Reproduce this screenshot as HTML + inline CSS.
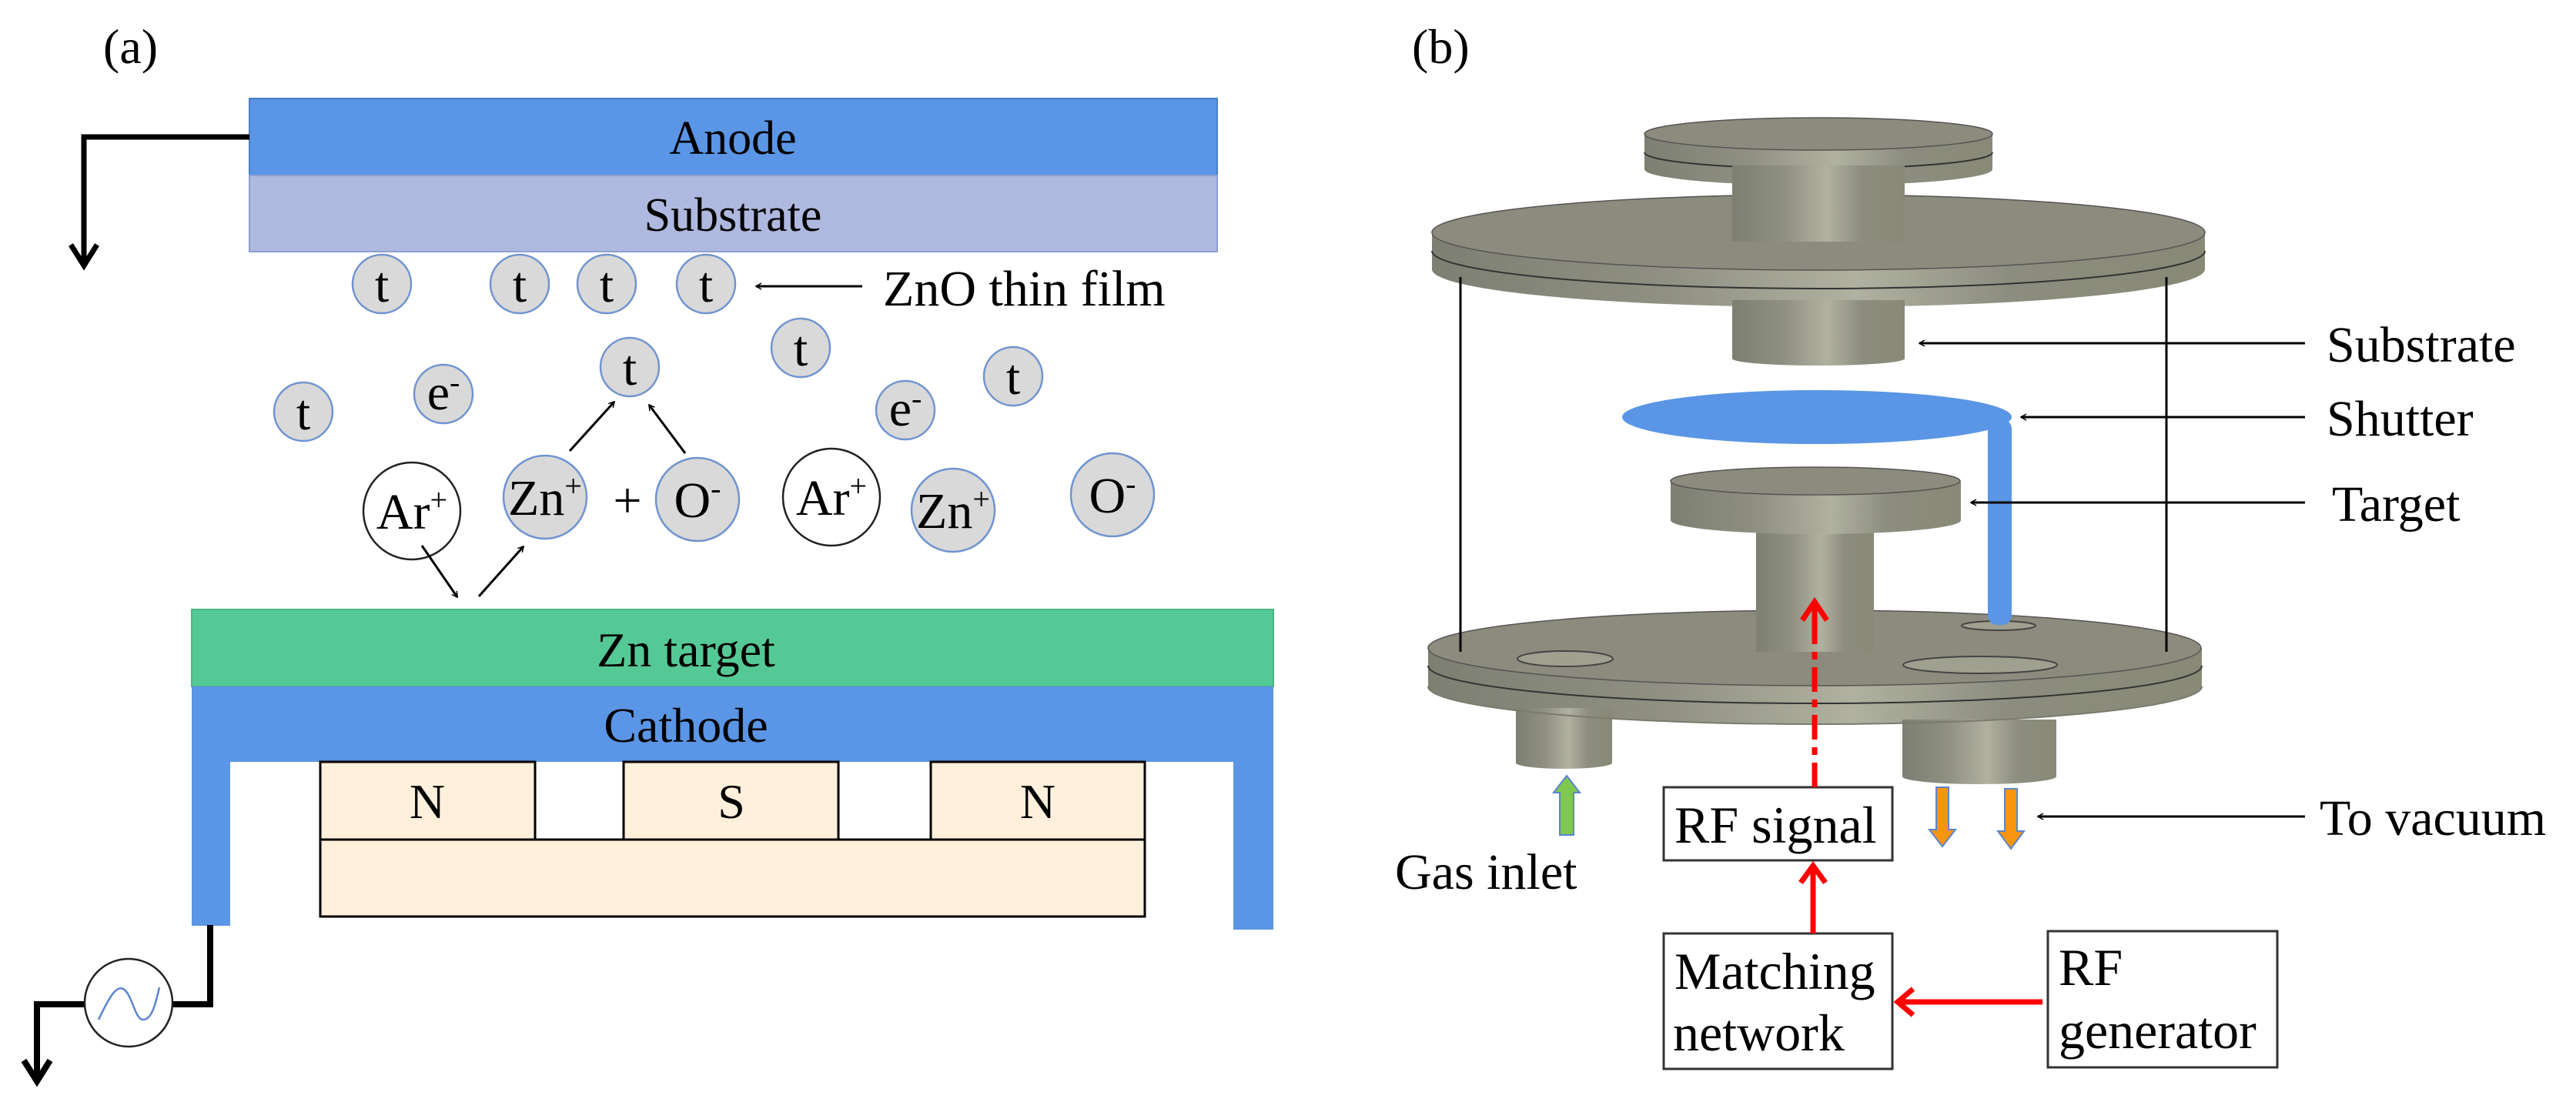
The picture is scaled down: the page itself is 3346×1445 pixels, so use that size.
<!DOCTYPE html>
<html><head><meta charset="utf-8"><style>
html,body{margin:0;padding:0;background:#fff}
svg{display:block;font-family:"Liberation Serif","DejaVu Serif",serif}
svg text{font-family:"Liberation Serif","DejaVu Serif",serif;fill:#000}
</style></head><body>
<svg width="3346" height="1445" viewBox="0 0 3346 1445" xmlns="http://www.w3.org/2000/svg">
<defs>
<linearGradient id="m" x1="0" x2="1" y1="0" y2="0">
<stop offset="0" stop-color="#7d7f72"/><stop offset="0.3" stop-color="#8f9082"/><stop offset="0.55" stop-color="#b0b1a0"/><stop offset="0.75" stop-color="#8c8d7f"/><stop offset="1" stop-color="#888976"/>
</linearGradient>
<marker id="ah" markerWidth="10" markerHeight="10" refX="8" refY="5" orient="auto" markerUnits="userSpaceOnUse" viewBox="0 0 10 10"><path d="M1,1 L8,5 L1,9" fill="none" stroke="#000" stroke-width="1.5"/></marker>
</defs>

<text x="134" y="82" font-size="64">(a)</text>
<rect x="324" y="128" width="1257" height="100" fill="#5b95e5" stroke="#4a7fcc" stroke-width="2"/>
<rect x="324" y="228" width="1257" height="99" fill="#afb9df" stroke="#8e9fd2" stroke-width="2"/>
<text x="952" y="200" font-size="62" text-anchor="middle">Anode</text>
<text x="952" y="300" font-size="62" text-anchor="middle">Substrate</text>
<path d="M324,178 H109 V340" fill="none" stroke="#000" stroke-width="7"/>
<path d="M92,318 L109,345 L126,318" fill="none" stroke="#000" stroke-width="7"/>

<g fill="#d9d9d9" stroke="#7094d0" stroke-width="2.5">
<circle cx="496" cy="369" r="38"/><circle cx="675" cy="369" r="38"/><circle cx="788" cy="369" r="38"/><circle cx="917" cy="369" r="38"/>
<circle cx="1040" cy="452" r="38"/><circle cx="818" cy="477" r="38"/><circle cx="394" cy="535" r="38"/><circle cx="576" cy="512" r="38"/>
<circle cx="1176" cy="533" r="38"/><circle cx="1316" cy="489" r="38"/>
<circle cx="708" cy="646" r="54"/><circle cx="906" cy="649" r="54"/><circle cx="1238" cy="663" r="54"/><circle cx="1445" cy="643" r="54"/>
</g>
<g fill="#fff" stroke="#222" stroke-width="2.5">
<circle cx="535" cy="664" r="63"/><circle cx="1080" cy="646" r="63"/>
</g>
<g font-size="66" text-anchor="middle">
<text x="496" y="392">t</text><text x="675" y="392">t</text><text x="788" y="392">t</text><text x="917" y="392">t</text>
<text x="1040" y="475">t</text><text x="818" y="500">t</text><text x="394" y="558">t</text><text x="1316" y="512">t</text>
<text x="576" y="532">e<tspan font-size="40" dy="-22">-</tspan></text>
<text x="1176" y="553">e<tspan font-size="40" dy="-22">-</tspan></text>
<text x="535" y="687">Ar<tspan font-size="40" dy="-24">+</tspan></text>
<text x="1080" y="669">Ar<tspan font-size="40" dy="-24">+</tspan></text>
<text x="708" y="669">Zn<tspan font-size="40" dy="-24">+</tspan></text>
<text x="1238" y="686">Zn<tspan font-size="40" dy="-24">+</tspan></text>
<text x="906" y="672">O<tspan font-size="40" dy="-24">-</tspan></text>
<text x="1445" y="666">O<tspan font-size="40" dy="-24">-</tspan></text>
<text x="815" y="672">+</text>
</g>
<text x="1147" y="397" font-size="66">ZnO thin film</text>
<g stroke="#000" stroke-width="3" fill="none" marker-end="url(#ah)">
<line x1="1120" y1="372" x2="982" y2="372"/>
<line x1="740" y1="586" x2="798" y2="522"/>
<line x1="890" y1="589" x2="843" y2="526"/>
<line x1="548" y1="709" x2="594" y2="776"/>
<line x1="622" y1="775" x2="680" y2="710"/>
</g>

<rect x="249" y="792" width="1405" height="100" fill="#55c995" stroke="#48b482" stroke-width="2"/>
<rect x="249" y="892" width="1405" height="98" fill="#5b95e5"/>
<rect x="249" y="990" width="50" height="213" fill="#5b95e5"/>
<rect x="1602" y="990" width="52" height="218" fill="#5b95e5"/>
<text x="891" y="866" font-size="64" text-anchor="middle">Zn target</text>
<text x="891" y="964" font-size="64" text-anchor="middle">Cathode</text>
<g fill="#fff0dc" stroke="#000" stroke-width="3">
<rect x="416" y="990" width="279" height="101"/><rect x="810" y="990" width="279" height="101"/><rect x="1209" y="990" width="278" height="101"/>
<rect x="416" y="1091" width="1071" height="100"/>
</g>
<g font-size="64" text-anchor="middle"><text x="555" y="1063">N</text><text x="950" y="1063">S</text><text x="1348" y="1063">N</text></g>
<path d="M273,1202 V1305 H225 M110,1305 H48 V1400" fill="none" stroke="#000" stroke-width="8"/>
<path d="M31,1378 L48,1405 L65,1378" fill="none" stroke="#000" stroke-width="8"/>
<circle cx="167" cy="1303" r="57" fill="#fff" stroke="#222" stroke-width="2.5"/>
<path d="M128,1325 C140,1300 150,1280 160,1285 C172,1292 175,1325 186,1325 C198,1325 203,1300 207,1283" fill="none" stroke="#5b85d0" stroke-width="2.5"/>

<text x="1834" y="82" font-size="64">(b)</text>
<line x1="1897" y1="374" x2="1897" y2="847" stroke="#000" stroke-width="3"/>
<line x1="2814" y1="374" x2="2814" y2="847" stroke="#000" stroke-width="3"/>
<path d="M2136,174 V220 A226,21 0 0 0 2588,220 V174 Z" fill="url(#m)"/>
<ellipse cx="2362" cy="174" rx="226" ry="21" fill="#8c8b7d" stroke="#555" stroke-width="1.5"/>
<path d="M2136,198 A226,21 0 0 0 2588,198" fill="none" stroke="#333" stroke-width="2"/>
<rect x="2250" y="215" width="224" height="100" fill="url(#m)"/>
<path d="M1860,302 V350 A502,49 0 0 0 2864,350 V302 Z" fill="url(#m)"/>
<ellipse cx="2362" cy="302" rx="502" ry="49" fill="#8c8b7d" stroke="#555" stroke-width="1.5"/>
<rect x="2250" y="240" width="224" height="74" fill="url(#m)"/>
<path d="M1860,326 A502,49 0 0 0 2864,326" fill="none" stroke="#333" stroke-width="2"/>
<path d="M2250,390 V466 A112,9 0 0 0 2474,466 V390 Z" fill="url(#m)"/>
<line x1="1897" y1="360" x2="1897" y2="400" stroke="#000" stroke-width="3"/>
<line x1="2814" y1="360" x2="2814" y2="400" stroke="#000" stroke-width="3"/>
<ellipse cx="2360" cy="542" rx="253" ry="35" fill="#5b95e5"/>
<path d="M1855,842 V892 A502,49 0 0 0 2860,892 V842 Z" fill="url(#m)"/>
<ellipse cx="2357" cy="842" rx="502" ry="49" fill="#8c8b7d" stroke="#555" stroke-width="1.5"/>
<path d="M1855,865 A502,49 0 0 0 2860,865" fill="none" stroke="#333" stroke-width="2"/>
<ellipse cx="2033" cy="856" rx="62" ry="10" fill="#9fa090" stroke="#444" stroke-width="2"/>
<ellipse cx="2572" cy="864" rx="100" ry="11" fill="#9fa090" stroke="#444" stroke-width="2"/>
<ellipse cx="2596" cy="813" rx="48" ry="6" fill="#9fa090" stroke="#444" stroke-width="2"/>
<rect x="2582" y="545" width="31" height="267" rx="12" fill="#5b95e5"/>
<line x1="1897" y1="600" x2="1897" y2="847" stroke="#000" stroke-width="3"/>
<line x1="2814" y1="600" x2="2814" y2="847" stroke="#000" stroke-width="3"/>
<rect x="2281" y="680" width="153" height="167" fill="url(#m)"/>
<path d="M2170,625 V676 A188,18 0 0 0 2547,676 V625 Z" fill="url(#m)"/>
<ellipse cx="2358" cy="625" rx="188" ry="18" fill="#8c8b7d" stroke="#555" stroke-width="1.5"/>
<path d="M1969,920 V992 A63,8 0 0 0 2094,992 V920 Z" fill="url(#m)"/>
<path d="M2471,935 V1009 A100,10 0 0 0 2671,1009 V935 Z" fill="url(#m)"/>
<path d="M1855,892 A502,49 0 0 0 2860,892" fill="none" stroke="#7a7b6d" stroke-width="2"/>
<path d="M2026,1085 V1030 H2018 L2035,1008 L2052,1030 H2044 V1085 Z" fill="#7ec850" stroke="#5b85d0" stroke-width="2"/>
<path d="M2515,1023 V1078 H2506 L2523,1100 L2540,1078 H2531 V1023 Z" fill="#f7960e" stroke="#5b85d0" stroke-width="2"/>
<path d="M2604,1025 V1080 H2595 L2612,1103 L2629,1080 H2620 V1025 Z" fill="#f7960e" stroke="#5b85d0" stroke-width="2"/>
<g stroke="#000" stroke-width="3" fill="none" marker-end="url(#ah)">
<line x1="2994" y1="446" x2="2493" y2="446"/>
<line x1="2994" y1="542" x2="2625" y2="542"/>
<line x1="2994" y1="653" x2="2560" y2="653"/>
<line x1="2994" y1="1061" x2="2647" y2="1061"/>
</g>
<g font-size="66">
<text x="3022" y="470">Substrate</text>
<text x="3022" y="566">Shutter</text>
<text x="3029" y="677">Target</text>
<text x="3013" y="1085">To vacuum</text>
<text x="1812" y="1155">Gas inlet</text>
</g>
<rect x="2161" y="1023" width="297" height="95" fill="#fff" stroke="#333" stroke-width="3"/>
<rect x="2161" y="1213" width="297" height="176" fill="#fff" stroke="#333" stroke-width="3"/>
<rect x="2660" y="1210" width="298" height="177" fill="#fff" stroke="#333" stroke-width="3"/>
<g font-size="68">
<text x="2175" y="1095">RF signal</text>
<text x="2175" y="1285">Matching</text>
<text x="2173" y="1365">network</text>
<text x="2674" y="1280">RF</text>
<text x="2674" y="1362">generator</text>
</g>
<g stroke="#ff0000" fill="none" stroke-width="7">
<line x1="2653" y1="1302" x2="2466" y2="1302"/>
<path d="M2485,1285 L2465,1302 L2485,1319"/>
<line x1="2355" y1="1213" x2="2355" y2="1128"/>
<path d="M2339,1147 L2355,1125 L2371,1147"/>
<line x1="2357" y1="1023" x2="2357" y2="785" stroke-dasharray="32 10 10 10"/>
<line x1="2357" y1="790" x2="2357" y2="830"/>
<path d="M2341,806 L2357,782 L2373,806"/>
</g>
</svg>
</body></html>
